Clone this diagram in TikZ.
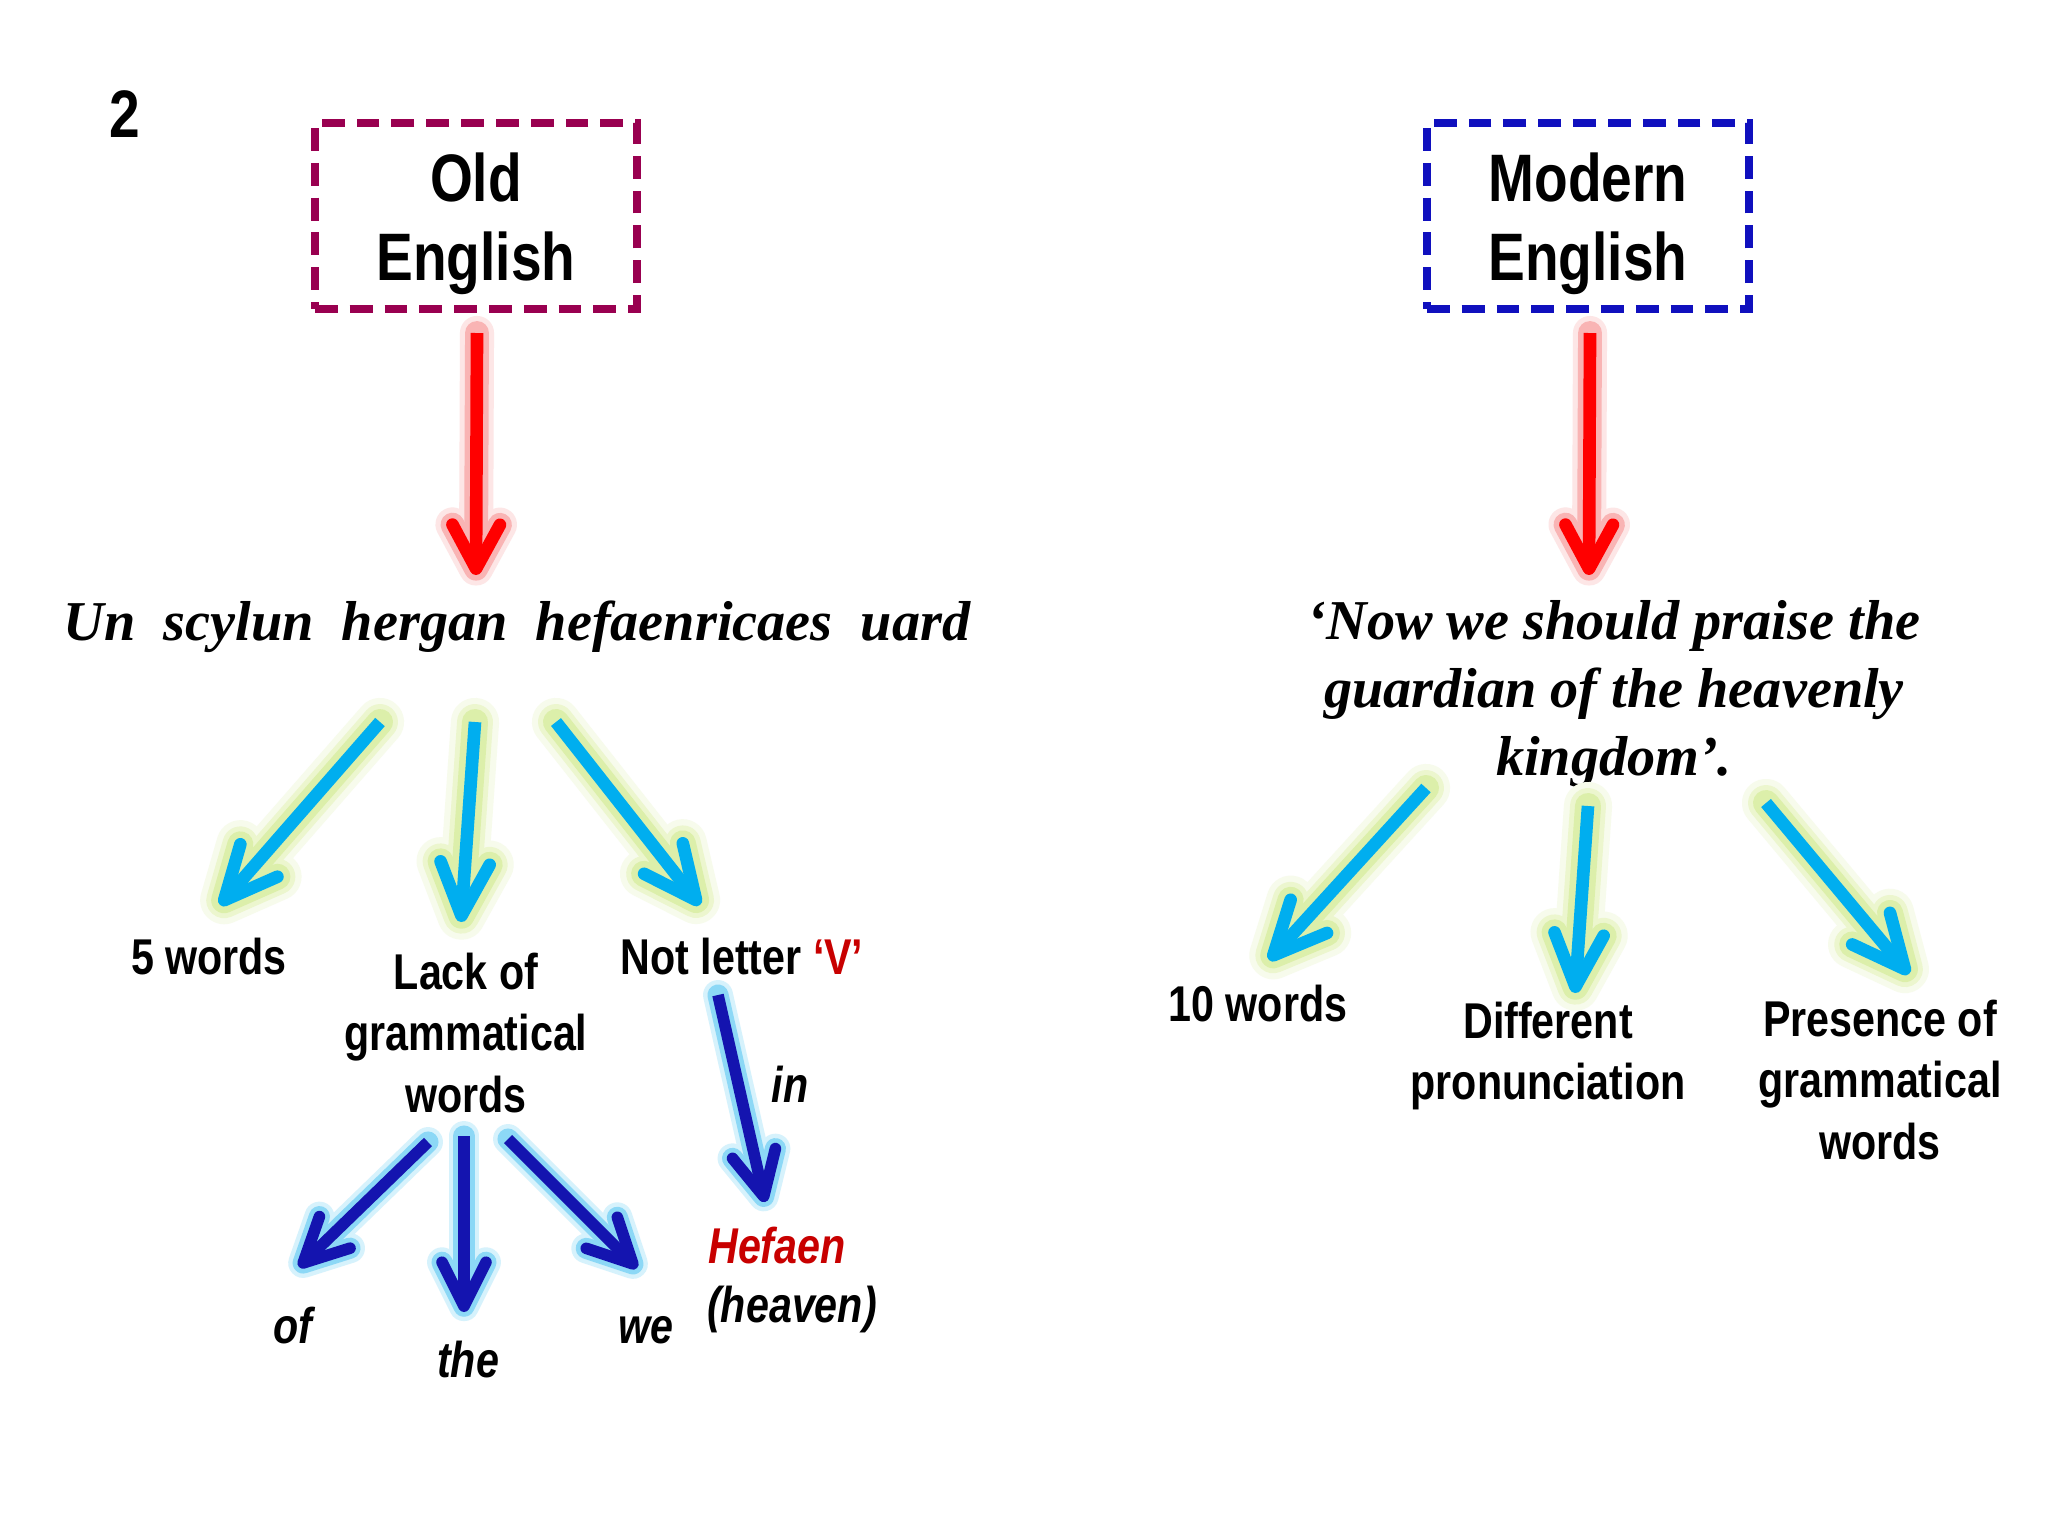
\documentclass[tikz,border=0pt]{standalone}
\usepackage{fontspec}
\usetikzlibrary{arrows.meta}
\newfontfamily\nsans[FakeStretch=0.82]{Liberation Sans}
\newfontfamily\tserif{Liberation Serif}
\definecolor{oecol}{RGB}{153,0,80}
\definecolor{mecol}{RGB}{16,16,190}
\definecolor{cyanA}{RGB}{0,174,239}
\definecolor{blueA}{RGB}{20,20,175}
\definecolor{redA}{RGB}{255,0,0}
\definecolor{txtred}{RGB}{200,0,0}
\definecolor{cyanGa}{RGB}{247,251,236}
\definecolor{cyanGb}{RGB}{236,246,206}
\definecolor{cyanGc}{RGB}{220,239,170}
\definecolor{redGa}{RGB}{253,230,230}
\definecolor{redGb}{RGB}{249,180,180}
\definecolor{blueGa}{RGB}{214,242,252}
\definecolor{blueGb}{RGB}{140,216,246}
\begin{document}
\begin{tikzpicture}[x=0.01cm,y=-0.01cm,
  lbl/.style={font=\nsans\bfseries\fontsize{14.3}{17.4}\selectfont, align=center, inner sep=0pt},
  lbli/.style={font=\nsans\bfseries\itshape\fontsize{14.3}{17.4}\selectfont, inner sep=0pt},
  boxtxt/.style={font=\nsans\bfseries\fontsize{19.1}{22.5}\selectfont, align=center, inner sep=0pt},
  sertxt/.style={font=\tserif\bfseries\itshape\fontsize{16}{19.35}\selectfont, align=center, inner sep=0pt},
  dbox/.style={line width=2.1pt, dash pattern=on 6.5pt off 3.4pt, minimum width=3.22cm, minimum height=1.86cm, inner sep=0pt},
  cyanarr/.style={
    preaction={draw=cyanGa, line width=13.7pt, line cap=round, shorten >=-5pt, -{Straight Barb[length=15pt,width=14pt,round]}},
    preaction={draw=cyanGb, line width=10.2pt, line cap=round, shorten >=-3.3pt, -{Straight Barb[length=15pt,width=14pt,round]}},
    preaction={draw=cyanGc, line width=7.4pt, line cap=round, shorten >=-1.9pt, -{Straight Barb[length=15pt,width=14pt,round]}},
    draw=cyanA, line width=3.6pt, -{Straight Barb[length=15pt,width=14pt,round]}},
  redarr/.style={
    preaction={draw=redGa, line width=9.7pt, line cap=round, shorten >=-3pt, -{Straight Barb[length=12.5pt,width=13.5pt,round]}},
    preaction={draw=redGb, line width=6.8pt, line cap=round, shorten >=-1.6pt, -{Straight Barb[length=12.5pt,width=13.5pt,round]}},
    draw=redA, line width=3.6pt, -{Straight Barb[length=12.5pt,width=13.5pt,round]}},
  bluearr/.style={
    preaction={draw=blueGa, line width=8.5pt, line cap=round, shorten >=-2.6pt, -{Straight Barb[length=12.5pt,width=12.5pt,round]}},
    preaction={draw=blueGb, line width=6pt, line cap=round, shorten >=-1.35pt, -{Straight Barb[length=12.5pt,width=12.5pt,round]}},
    draw=blueA, line width=3.3pt, -{Straight Barb[length=12.5pt,width=12.5pt,round]}}
]
\useasboundingbox (0,0) rectangle (2048,1536);
\fill[white] (0,0) rectangle (2048,1536);

% number
\node[font=\nsans\bfseries\fontsize{19.1}{22.5}\selectfont, inner sep=0pt, anchor=base] (num) at (125,137) {2};

% title boxes
\node[dbox, draw=oecol] (oebox) at (476,216) {};
\node[boxtxt] (oe) at (476,224) {Old\\English};
\node[dbox, draw=mecol] (mebox) at (1588,216) {};
\node[boxtxt] (me) at (1588,224) {Modern\\English};

% sentences
\node[sertxt, anchor=base] (oesent) at (517,640) {Un\ \ scylun\ \ hergan\ \ hefaenricaes\ \ uard};
\node[sertxt] (mesent) at (1614,694) {‘Now we should praise the\\guardian of the heavenly\\kingdom’.};

% left labels
\node[lbl, anchor=base] (five) at (209,974) {5 words};
\node[lbl] (lack) at (466,1033) {Lack of\\grammatical\\words};
\node[lbl, anchor=base] (notv) at (742,974) {Not letter \textcolor{txtred}{‘V’}};
\node[lbli, anchor=base] (in) at (790,1102) {in};
\node[lbli, anchor=base, text=txtred] (hef) at (777,1263) {Hefaen};
\node[lbli, anchor=base] (heav) at (792,1322) {(heaven)};
\node[lbli, anchor=base] (of) at (293,1343) {of};
\node[lbli, anchor=base] (the) at (468,1377) {the};
\node[lbli, anchor=base] (we) at (646,1343) {we};

% right labels
\node[lbl, anchor=base] (ten) at (1258,1021) {10 words};
\node[lbl] (diff) at (1548,1056) {Different\\pronunciation};
\node[lbl] (pres) at (1880,1080) {Presence of\\grammatical\\words};

% arrow end points
\coordinate (ra1s) at (477,333); \coordinate (ra1e) at (476,575);
\coordinate (ra2s) at (1590,333); \coordinate (ra2e) at (1589,575);
\coordinate (c1s) at (380,722); \coordinate (c1e) at (220,905);
\coordinate (c2s) at (475,722); \coordinate (c2e) at (461,922);
\coordinate (c3s) at (556,722); \coordinate (c3e) at (700,905);
\coordinate (c4s) at (1426,788); \coordinate (c4e) at (1269,960);
\coordinate (c5s) at (1588,806); \coordinate (c5e) at (1575,993);
\coordinate (c6s) at (1766,803); \coordinate (c6e) at (1909,974);
\coordinate (b1s) at (428,1142); \coordinate (b1e) at (299,1267);
\coordinate (b2s) at (464,1136); \coordinate (b2e) at (464,1312);
\coordinate (b3s) at (508,1139); \coordinate (b3e) at (637,1268);
\coordinate (b4s) at (718,995); \coordinate (b4e) at (765,1202);

\draw[redarr] (ra1s) -- (ra1e);
\draw[redarr] (ra2s) -- (ra2e);
\draw[cyanarr] (c1s) -- (c1e);
\draw[cyanarr] (c2s) -- (c2e);
\draw[cyanarr] (c3s) -- (c3e);
\draw[cyanarr] (c4s) -- (c4e);
\draw[cyanarr] (c5s) -- (c5e);
\draw[cyanarr] (c6s) -- (c6e);
\draw[bluearr] (b1s) -- (b1e);
\draw[bluearr] (b2s) -- (b2e);
\draw[bluearr] (b3s) -- (b3e);
\draw[bluearr] (b4s) -- (b4e);
\end{tikzpicture}
\end{document}
